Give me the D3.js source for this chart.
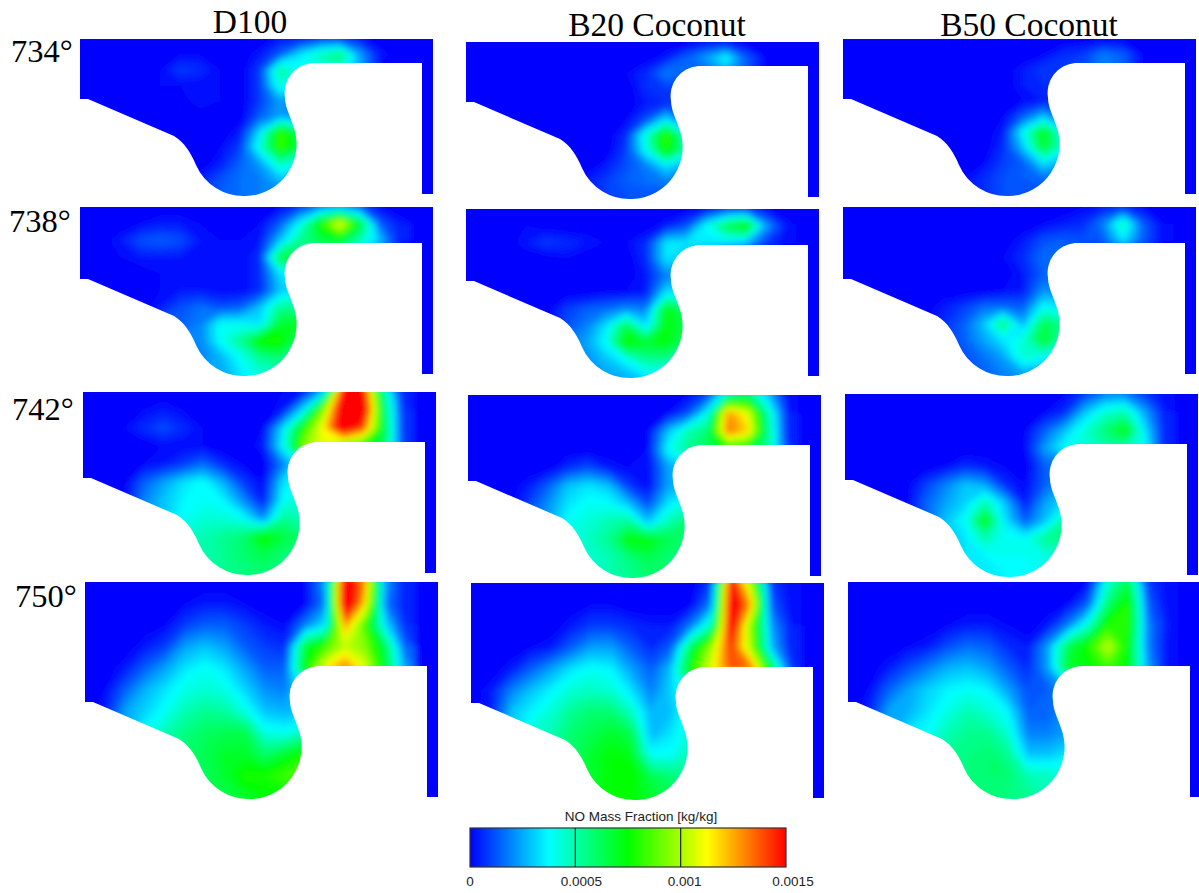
<!DOCTYPE html>
<html>
<head>
<meta charset="utf-8">
<title>NO Mass Fraction</title>
<style>
    body { margin: 0; background: #fff; }
    .head { font-family: "Liberation Serif", serif; fill: #000; }
    .leg { font-family: "Liberation Sans", sans-serif; fill: #222; }
</style>
<script src="https://d3js.org/d3.v7.min.js"></script>
</head>
<body>
<svg width="1199" height="893"></svg>
<script>
// fuels and crank angles
var fuels = ["D100", "B20 Coconut", "B50 Coconut"];
var angles = ["734°", "738°", "742°", "750°"];
var legendTicks = [0, 0.0005, 0.001, 0.0015];
var legendLabels = ["0", "0.0005", "0.001", "0.0015"];

// NO mass fraction, in units of 0.5e-4 kg/kg
// columns are every 20px across the panel, 11 rows top to bottom
var d100_734 = [
[0,0,0,0,0,0,0,0,0,0,1,1,2,2,1,0,0],
[0,0,0,0,0,.5,.5,0,0,1,3,7,10,12,5,1,0],
[0,0,0,0,.5,2,1.5,.5,0,2,11,8,8,9,5,0,0],
[0,0,0,0,.5,.5,.5,.5,0,2,9,6,3,0,0,0,0],
[0,0,0,0,0,0,1,.5,0,2,5,3,0,0,0,0,0],
[0,0,0,0,0,0,0,0,0,3,5,4,0,0,0,0,0],
[0,0,0,0,0,0,0,0,1,7,17,12,0,0,0,0,0],
[0,0,0,0,0,0,0,.5,2,9,17,13,0,0,0,0,0],
[0,0,0,0,0,0,0,1,3,5,10,8,0,0,0,0,0],
[0,0,0,0,0,0,1,2.5,3.5,4,6,5,0,0,0,0,0],
[0,0,0,0,0,2,2,3,3.5,4,4,4,0,0,0,0,0]];
var d100_738 = [
[0,0,0,0,0,0,0,0,0,0,.5,2,4,5,3,.5,0],
[0,0,0,.5,1,1,.5,0,0,.5,3,8,16,23,14,3,1],
[0,0,1,2.5,3,2.5,1,.5,.5,1,6,11,13,14,10,6,1],
[0,0,.5,1,1,1,.5,.5,.5,1.5,14,13,10,8,5,2,.5],
[0,0,0,0,.5,.5,.5,.5,.5,1.5,7,8,5,0,0,0,0],
[0,0,0,0,.5,1,1,.5,.5,1.5,6,7,5,0,0,0,0],
[0,0,0,0,1,2.5,3.5,2.5,3,6,11,11,5,0,0,0,0],
[0,0,0,0,3,3,4,8,8,7,14,14,5,0,0,0,0],
[0,0,0,0,4,4,4,8,11,16,16,12,5,0,0,0,0],
[0,0,0,0,4,4,4,5.5,8,11,12,10,5,0,0,0,0],
[0,0,0,0,5,5,5,5,7,9,9,9,5,0,0,0,0]];
var d100_742 = [
[0,0,0,0,0,0,0,0,0,0,.5,1,6,31,31,11,1],
[0,0,0,.5,1,.5,0,0,0,0,1,7,19,33,33,13,1.5],
[0,0,.5,1.5,2.5,1.5,.5,0,0,.5,7,16,23,33,28,14,1.5],
[0,0,0,0,.5,.5,.5,0,0,1,8,19,22,17,15,13,2],
[0,0,0,.5,1,2,3.5,1.5,.5,0,4,8,8,0,0,0,0],
[0,0,0,3,5,7,8,5.5,2,.5,7,8,8,0,0,0,0],
[0,0,0,4,6,7.5,8,7.5,4.5,1,8,9,8,0,0,0,0],
[0,0,0,4,6,8,9,9,8,4.5,11,10,8,0,0,0,0],
[0,0,0,4,6,9,10,11,12,16,13.5,12,8,0,0,0,0],
[0,0,0,4,6,10,10,11,12,13,12,11,8,0,0,0,0],
[0,0,0,4,6,10,10,11,11.5,12,11,10,8,0,0,0,0]];
var d100_750 = [
[0,0,0,0,0,0,0,0,0,0,0,.5,5,33,26,5,1],
[0,0,0,0,0,.5,1,1,.5,0,0,.5,4,34,24,4,1],
[0,0,0,0,.5,2,3,3,2,1,.5,4,7,26,17,7,1.5],
[0,0,0,1,2,5,6,5,3,2,1.5,14,17,21,19,13,3],
[0,0,1,3,5,7,8,7,5,3,3,15,23,27,22,14,5],
[0,.5,3,5.5,7,8.5,9,8.5,6.5,4.5,4,8,8,8,0,0,0],
[0,1,5,6.5,8,10,11,10.5,8.5,6,5.5,6,6,0,0,0,0],
[0,1,5,8,10,11.5,12.5,13,13,8.5,8,10,10,0,0,0,0],
[0,1,5,8,10,12,13,14,14,12,14,16,16,0,0,0,0],
[0,1,5,8,10,12,12.5,14,16,16,17,18,18,0,0,0,0],
[0,1,5,8,10,12,13,13,14,15,15,15,15,0,0,0,0]];

var b20_734 = [
[0,0,0,0,0,0,0,0,0,0,0,0,.5,.5,0,0,0],
[0,0,0,0,0,0,0,0,0,0,1,3,5,8,3,.5,0],
[0,0,0,0,0,0,0,0,.5,1.5,4,3,3,5,3,0,0],
[0,0,0,0,0,0,0,0,0,1.5,2,2,0,0,0,0,0],
[0,0,0,0,0,0,0,0,0,1,1.5,1.5,0,0,0,0,0],
[0,0,0,0,0,0,0,0,.5,2.5,7,3,0,0,0,0,0],
[0,0,0,0,0,0,0,0,1.5,9,17,9,0,0,0,0,0],
[0,0,0,0,0,0,0,0,2,8,16,10,0,0,0,0,0],
[0,0,0,0,0,0,0,1,2.5,4,7,5,0,0,0,0,0],
[0,0,0,0,0,0,1,2,3,3.5,4,3,0,0,0,0,0],
[0,0,0,0,0,0,1,2,2.5,2.5,2,2,0,0,0,0,0]];
var b20_738 = [
[0,0,0,0,0,0,0,0,0,0,0,0,.5,2,2,.5,0],
[0,0,0,.5,0,0,0,0,0,0,1,2.5,8,13,16,5,1],
[0,0,0,1,2,1.5,1,.5,.5,1.5,7,7,7,7,6,2,.5],
[0,0,0,0,0,.5,0,0,0,1.5,7,6,4,0,0,0,0],
[0,0,0,0,0,0,0,0,0,1,4,4,0,0,0,0,0],
[0,0,0,0,0,0,0,.5,.5,1,7,7,0,0,0,0,0],
[0,0,0,0,0,2,3,3.5,4.5,4,15,12,0,0,0,0,0],
[0,0,0,0,0,2.5,4,7,13,7,15,13,0,0,0,0,0],
[0,0,0,0,0,4,5,8,16,14,15,12,0,0,0,0,0],
[0,0,0,0,0,4,4.5,6,8,11,11,9,0,0,0,0,0],
[0,0,0,0,0,4,4.5,5,5.5,7,7,7,0,0,0,0,0]];
var b20_742 = [
[0,0,0,0,0,0,0,0,0,0,0,.5,2.5,10,12,6,.5],
[0,0,0,0,0,0,0,0,0,0,.5,2.5,8,26,22,10,1],
[0,0,0,0,0,0,0,0,0,.5,6,10,12,27,24,11,1],
[0,0,0,0,0,0,0,0,0,.5,8,11,13,15,14,11,1.5],
[0,0,0,0,0,1.5,2.5,1,.5,.5,5,6,6,0,0,0,0],
[0,0,0,1,3,6,7,6,2,.5,5,6,6,0,0,0,0],
[0,0,0,2,4.5,7,8,8,6,2.5,7,9,8,0,0,0,0],
[0,0,0,3,5,8,9,10,11,6,10,12,8,0,0,0,0],
[0,0,0,3,5,8,9.5,11,15,15,13,12,8,0,0,0,0],
[0,0,0,3,5,8,9,10,11.5,13,12,11,8,0,0,0,0],
[0,0,0,3,5,8,9,10,11,12,12,11,8,0,0,0,0]];
var b20_750 = [
[0,0,0,0,0,0,0,0,0,0,0,0,2,31,20,2,.5],
[0,0,0,0,0,0,.5,.5,0,0,0,.5,4,33,25,3,.5],
[0,0,0,0,0,1,2,2,1.5,1,1,4,10,32,19,5,1],
[0,0,0,.5,1,3,5,5,3,1.5,3,13,20,29,20,6,1],
[0,0,1,3,5,7,8,7.5,5,3,6,16,22,28,27,14,2],
[0,1,4,6,7.5,9,9.5,9,7,4,6.5,10,10,8,0,0,0],
[0,1,6,7.5,9,11,12,12,9.5,5.5,6,9,9,0,0,0,0],
[0,1,6,9,10,12,13,14,13,5.5,7,9,9,0,0,0,0],
[0,1,6,9,10,12,14,15,14.5,8,8,10,10,0,0,0,0],
[0,1,6,9,10,12,14,15,15.5,13,12,11,11,0,0,0,0],
[0,1,6,9,10,12,14,15,15,14,13,12,12,0,0,0,0]];

var b50_734 = [
[0,0,0,0,0,0,0,0,0,0,0,0,0,0,0,0,0],
[0,0,0,0,0,0,0,0,0,0,.5,1.5,2,4,3,.5,0],
[0,0,0,0,0,0,0,0,0,1,2,2,2,4,3,0,0],
[0,0,0,0,0,0,0,0,0,1,1.5,1.5,0,0,0,0,0],
[0,0,0,0,0,0,0,0,0,.5,1,1,0,0,0,0,0],
[0,0,0,0,0,0,0,0,.5,3,6,3,0,0,0,0,0],
[0,0,0,0,0,0,0,0,1,8,15,8,0,0,0,0,0],
[0,0,0,0,0,0,0,0,1.5,6,14,9,0,0,0,0,0],
[0,0,0,0,0,0,0,.5,2,3,7,5,0,0,0,0,0],
[0,0,0,0,0,0,.5,1.5,2.5,3,3.5,3,0,0,0,0,0],
[0,0,0,0,0,0,.5,1.5,2.5,2.5,2,2,0,0,0,0,0]];
var b50_738 = [
[0,0,0,0,0,0,0,0,0,0,0,0,.5,1,1.5,.5,0],
[0,0,0,0,0,0,0,0,0,0,.5,1,1.5,4,10,3,.5],
[0,0,0,0,0,0,0,0,0,1,2.5,3,2.5,3,7,3,.5],
[0,0,0,0,0,0,0,0,.5,1.5,3.5,3,2,0,0,0,0],
[0,0,0,0,0,0,0,0,0,1,3,3,0,0,0,0,0],
[0,0,0,0,0,0,0,0,.5,1,4.5,4,0,0,0,0,0],
[0,0,0,0,0,1,2,3.5,3.5,3,8,7,0,0,0,0,0],
[0,0,0,0,0,1.5,3,6,12,5.5,13,11,0,0,0,0,0],
[0,0,0,0,0,2,3,5,7,9,14,10,0,0,0,0,0],
[0,0,0,0,0,2,2.5,3.5,5,9,8,6,0,0,0,0,0],
[0,0,0,0,0,2,2.5,3,4,5,4.5,4,0,0,0,0,0]];
var b50_742 = [
[0,0,0,0,0,0,0,0,0,0,0,.5,2,4,4,2,.5],
[0,0,0,0,0,0,0,0,0,0,.5,1.5,6,9,10,5,1],
[0,0,0,0,0,0,0,0,0,.5,3,6,9,12,15,7,1],
[0,0,0,0,0,0,0,0,0,.5,5,8,9,10,10,8,1],
[0,0,0,0,0,.5,1.5,1,.5,0,3,3,3,0,0,0,0],
[0,0,0,0,2,4,6,5,1.5,.5,3,5,5,0,0,0,0],
[0,0,0,0,3,5,6.5,10,6,1,5,7,7,0,0,0,0],
[0,0,0,0,3,6,8,15,7,3,6,11,9,0,0,0,0],
[0,0,0,0,3,6,7,10,8,8,11,11,9,0,0,0,0],
[0,0,0,0,3,6,7,7.5,8,8,8.5,9,8,0,0,0,0],
[0,0,0,0,3,6,7,7,7.5,7.5,8,8,8,0,0,0,0]];
var b50_750 = [
[0,0,0,0,0,0,0,0,0,0,0,0,.5,9,13,2,.5],
[0,0,0,0,0,0,0,0,0,0,0,.5,3,12,16,3,.5],
[0,0,0,0,0,.5,1,1,.5,0,1,4,9,16,16,4,1],
[0,0,0,.5,1,2.5,3.5,3,1.5,1,5,13,16,21,15,4,.5],
[0,0,1,2.5,4,5.5,6,5,3,1.5,5,14,15,17,15,5,.5],
[0,.5,3,5,6.5,7.5,8,7.5,5,2.5,3,5,5,5,0,0,0],
[0,1,5,5.5,7,8.5,10,9,7.5,3,3,5,5,0,0,0,0],
[0,1,5,7,8,10,11,11,9,4,4,5,5,0,0,0,0],
[0,1,5,7,8,11,11.5,12,11,6,6,7,7,0,0,0,0],
[0,1,5,7,8,11,11.5,12,12,10,9.5,9,9,0,0,0,0],
[0,1,5,7,8,11,11.5,11.5,11.5,11,10,10,10,0,0,0,0]];

var fields = [
    [d100_734, b20_734, b50_734],
    [d100_738, b20_738, b50_738],
    [d100_742, b20_742, b50_742],
    [d100_750, b20_750, b50_750]
];

// where each panel sits in the picture
var panelLeft = [[80, 466, 843], [80, 466, 843], [83, 468, 845], [85, 471, 848]];
var panelTop = [[39, 42, 39], [207, 209, 207], [392, 395, 394], [582, 583, 582]];
var gapHeight = [24, 36, 50, 84];
var panelWidth = 353, bowlDepth = 131, cellWidth = 20;

var svg = d3.select("svg");
var defs = svg.append("defs");
defs.append("filter").attr("id", "soft")
    .attr("filterUnits", "userSpaceOnUse")
    .attr("x", -50).attr("y", -50).attr("width", 500).attr("height", 400)
    .append("feGaussianBlur").attr("stdDeviation", 3);

var color = d3.scaleLinear()
    .domain([0, 7.5, 15, 22.5, 30])
    .range(["#0000ff", "#00ffff", "#00ff00", "#ffff00", "#ff0000"])
    .clamp(true);

function chamber(g) {
    // piston bowl outline, origin at the left end of the piston top step
    return "M0," + (-g) + "H353V131H342V0H232A30,30 0 0 0 205,35" +
        "C205,44 211,55 213,62A52,52 0 0 1 166,133A52,52 0 0 1 116,102" +
        "C111,90 105,80 94,73L8,36H0Z";
}

var levels = d3.range(0.5, 33, 0.5);

fields.forEach(function(row, r) {
    row.forEach(function(grid, c) {
        var gap = gapHeight[r];
        var x0 = panelLeft[r][c], y0 = panelTop[r][c];
        var h = gap + bowlDepth;
        var nx = grid[0].length, ny = grid.length;
        var x = d3.scaleLinear().domain([0.5, nx - 0.5]).range([0, (nx - 1) * cellWidth]);
        var y = d3.scaleLinear().domain([0.5, ny - 0.5]).range([0, h]);

        var id = "clip" + r + c;
        defs.append("clipPath").attr("id", id)
            .append("path").attr("d", chamber(gap)).attr("transform", "translate(0," + gap + ")");

        var panel = svg.append("g")
            .attr("transform", "translate(" + x0 + "," + y0 + ")")
            .attr("clip-path", "url(#" + id + ")");
        var soft = panel.append("g").attr("filter", "url(#soft)");

        soft.append("rect")
            .attr("x", -30).attr("y", -30)
            .attr("width", panelWidth + 60).attr("height", h + 60)
            .attr("fill", color(0));

        var contours = d3.contours().size([nx, ny]).thresholds(levels)(grid.flat());
        var path = d3.geoPath(d3.geoTransform({
            point: function(px, py) { this.stream.point(x(px), y(py)); }
        }));
        soft.selectAll("path").data(contours).enter().append("path")
            .attr("d", path)
            .attr("fill", function(d) { return color(d.value); });
    });
});

// column and row headings
var fuelX = [250, 657, 1029], fuelY = [33, 36, 36];
svg.selectAll(".fuel").data(fuels).enter().append("text")
    .attr("class", "head fuel")
    .attr("x", function(d, i) { return fuelX[i]; })
    .attr("y", function(d, i) { return fuelY[i]; })
    .attr("text-anchor", "middle")
    .attr("font-size", 33.5)
    .text(function(d) { return d; });

var angleX = [11, 9, 12, 15], angleY = [62, 232, 420, 607];
svg.selectAll(".angle").data(angles).enter().append("text")
    .attr("class", "head angle")
    .attr("x", function(d, i) { return angleX[i]; })
    .attr("y", function(d, i) { return angleY[i]; })
    .attr("font-size", 32.5)
    .text(function(d) { return d; });

// legend
var legendX = d3.scaleLinear().domain([0, 0.0015]).range([470, 786]);
var grad = defs.append("linearGradient").attr("id", "ramp");
color.domain().forEach(function(v) {
    grad.append("stop").attr("offset", v / 30).attr("stop-color", color(v));
});
svg.append("rect")
    .attr("x", 470).attr("y", 828).attr("width", 316).attr("height", 39)
    .attr("fill", "url(#ramp)").attr("stroke", "#333").attr("stroke-width", 1.2);
svg.selectAll(".split").data(legendTicks.slice(1, 3)).enter().append("line")
    .attr("class", "split")
    .attr("x1", legendX).attr("x2", legendX)
    .attr("y1", 828).attr("y2", 867)
    .attr("stroke", "#222").attr("stroke-width", 1.2);
svg.append("text").attr("class", "leg")
    .attr("x", 641).attr("y", 821)
    .attr("text-anchor", "middle").attr("font-size", 13.5)
    .text("NO Mass Fraction [kg/kg]");
var labelShift = [0, 6, 4, 7];
svg.selectAll(".ticklabel").data(legendTicks).enter().append("text")
    .attr("class", "leg ticklabel")
    .attr("x", function(d, i) { return legendX(d) + labelShift[i]; })
    .attr("y", 886)
    .attr("text-anchor", "middle").attr("font-size", 13.5)
    .text(function(d, i) { return legendLabels[i]; });
</script>
</body>
</html>
